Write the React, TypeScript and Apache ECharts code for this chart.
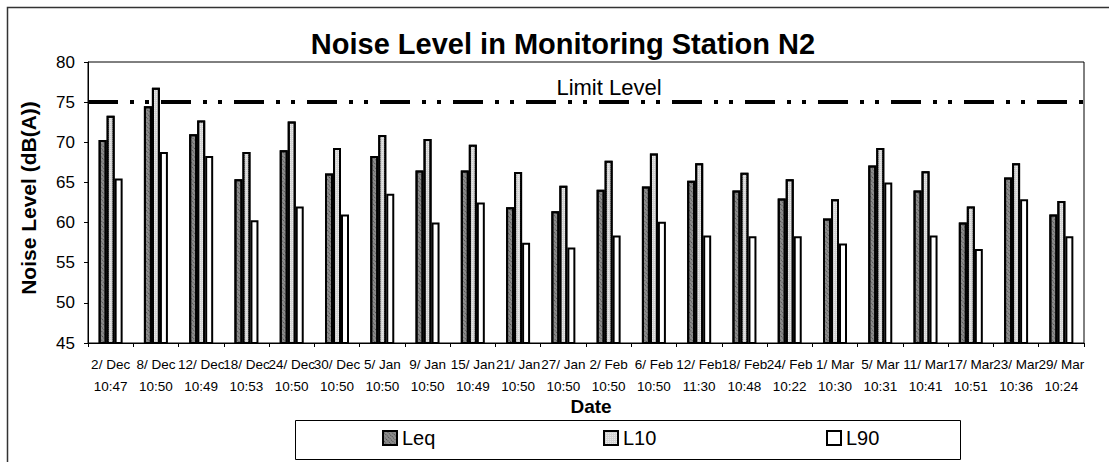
import React, { useEffect, useRef } from "react";
import * as echarts from "echarts";

const categories = [
  "2/ Dec\n10:47", "8/ Dec\n10:50", "12/ Dec\n10:49", "18/ Dec\n10:53", "24/ Dec\n10:50",
  "30/ Dec\n10:50", "5/ Jan\n10:50", "9/ Jan\n10:50", "15/ Jan\n10:49", "21/ Jan\n10:50",
  "27/ Jan\n10:50", "2/ Feb\n10:50", "6/ Feb\n10:50", "12/ Feb\n11:30", "18/ Feb\n10:48",
  "24/ Feb\n10:22", "1/ Mar\n10:30", "5/ Mar\n10:31", "11/ Mar\n10:41", "17/ Mar\n10:51",
  "23/ Mar\n10:36", "29/ Mar\n10:24",
];
const leq = [70.3, 74.5, 71.0, 65.4, 69.0, 66.1, 68.3, 66.5, 66.5, 61.9, 61.4, 64.1, 64.5, 65.2, 64.0, 63.0, 60.5, 67.1, 64.0, 60.0, 65.6, 61.0];
const l10 = [73.3, 76.8, 72.7, 68.8, 72.6, 69.3, 70.9, 70.4, 69.7, 66.3, 64.6, 67.7, 68.6, 67.4, 66.2, 65.4, 62.9, 69.3, 66.4, 62.0, 67.4, 62.7];
const l90 = [65.5, 68.8, 68.3, 60.3, 62.0, 61.0, 63.6, 60.0, 62.5, 57.5, 56.9, 58.4, 60.1, 58.4, 58.3, 58.3, 57.4, 65.0, 58.4, 56.7, 62.9, 58.3];
const seriesNames = ["Leq", "L10", "L90"];
const limitLevel = 75;
const yMin = 45;
const yMax = 80;
const yInterval = 5;

const FONT = "Liberation Sans, Arial, sans-serif";

export default function App() {
  const ref = useRef<HTMLDivElement>(null);
  useEffect(() => {
    if (!ref.current) return;
    const chart = echarts.init(ref.current, undefined, { renderer: "svg" });
    const styles = [
      {
        color: "#8c8c8c",
        borderColor: "#000",
        borderWidth: 2,
        decal: {
          symbol: "rect",
          symbolSize: 1,
          color: "rgba(30,30,30,0.6)",
          dashArrayX: [1, 1],
          dashArrayY: [1, 2],
          rotation: Math.PI / 4,
        },
      },
      {
        color: "#d2d2d2",
        borderColor: "#000",
        borderWidth: 2,
        decal: {
          symbol: "rect",
          symbolSize: 1,
          color: "rgba(255,255,255,0.5)",
          dashArrayX: [1, 1],
          dashArrayY: [1, 1],
        },
      },
      { color: "#ffffff", borderColor: "#000", borderWidth: 2 },
    ];
    const data = [leq, l10, l90];
    const legendLefts = [382, 603, 826];
    chart.setOption({
      animation: false,
      backgroundColor: "#fff",
      title: {
        text: "Noise Level in Monitoring Station N2",
        left: 563,
        top: 29,
        padding: 0,
        textAlign: "center",
        textStyle: { fontSize: 29, fontWeight: "bold", color: "#000", fontFamily: FONT },
      },
      legend: seriesNames.map((n, i) => ({
        data: [n],
        left: legendLefts[i],
        top: 428,
        itemWidth: 14,
        itemHeight: 14,
        itemGap: 6,
        padding: 0,
        icon: "rect",
        itemStyle: { borderColor: "#000", borderWidth: 2 },
        textStyle: { fontSize: 20, color: "#000", fontFamily: FONT },
        selectedMode: false,
      })),
      grid: {
        left: 88,
        right: 25,
        top: 62,
        bottom: 119,
        show: true,
        borderColor: "#000",
        borderWidth: 1,
      },
      xAxis: {
        type: "category",
        data: categories,
        axisLine: { lineStyle: { color: "#000", width: 1 } },
        axisTick: { show: true, length: 4, lineStyle: { color: "#000" } },
        axisLabel: {
          interval: 0,
          margin: 10,
          fontSize: 13.5,
          lineHeight: 22,
          color: "#000",
          fontFamily: FONT,
        },
      },
      yAxis: {
        type: "value",
        min: yMin,
        max: yMax,
        interval: yInterval,
        splitLine: { show: false },
        axisLine: { show: true, lineStyle: { color: "#000", width: 1 } },
        axisTick: { show: true, length: 4, lineStyle: { color: "#000" } },
        axisLabel: { fontSize: 17, margin: 13, color: "#000", fontFamily: FONT },
      },
      series: seriesNames.map((n, i) => ({
        name: n,
        type: "bar",
        data: data[i],
        barWidth: 8,
        barGap: "0%",
        itemStyle: styles[i],
        emphasis: { disabled: true },
        markLine:
          i === 0
            ? {
                silent: true,
                symbol: "none",
                label: { show: false },
                lineStyle: { color: "#000", width: 4, type: [30, 12, 4, 11, 4, 12] },
                data: [{ yAxis: limitLevel }],
              }
            : undefined,
      })),
      graphic: [
        {
          type: "rect",
          shape: { x: 7.5, y: 7.5, width: 1300, height: 700 },
          style: { fill: "none", stroke: "#333", lineWidth: 1.5 },
          silent: true,
        },
        {
          type: "rect",
          shape: { x: 295.5, y: 420.5, width: 665, height: 39 },
          style: { fill: "none", stroke: "#000", lineWidth: 1 },
          silent: true,
          z: -1,
        },
        {
          type: "text",
          x: 609,
          y: 87,
          style: {
            text: "Limit Level",
            fontSize: 22,
            fontFamily: FONT,
            fill: "#000",
            textAlign: "center",
            textVerticalAlign: "middle",
          },
        },
        {
          type: "text",
          x: 591,
          y: 406,
          style: {
            text: "Date",
            fontSize: 19,
            fontWeight: "bold",
            fontFamily: FONT,
            fill: "#000",
            textAlign: "center",
            textVerticalAlign: "middle",
          },
        },
        {
          type: "text",
          x: 28,
          y: 198,
          rotation: Math.PI / 2,
          style: {
            text: "Noise Level (dB(A))",
            fontSize: 21,
            fontWeight: "bold",
            fontFamily: FONT,
            fill: "#000",
            textAlign: "center",
            textVerticalAlign: "middle",
          },
        },
      ],
    });
    return () => chart.dispose();
  }, []);
  return (
    <div
      ref={ref}
      style={{ position: "absolute", left: 0, top: 0, width: 1109, height: 462 }}
    />
  );
}
